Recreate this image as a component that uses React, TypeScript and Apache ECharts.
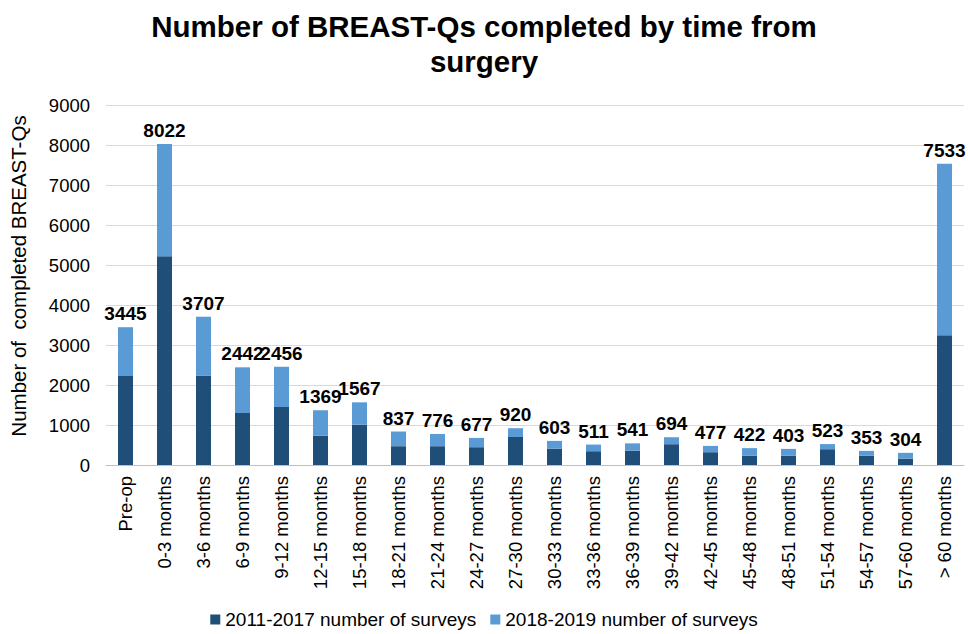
import React, { useEffect, useRef } from "react";
import * as echarts from "echarts";

const categories = [
  "Pre-op", "0-3 months", "3-6 months", "6-9 months", "9-12 months", "12-15 months",
  "15-18 months", "18-21 months", "21-24 months", "24-27 months", "27-30 months",
  "30-33 months", "33-36 months", "36-39 months", "39-42 months", "42-45 months",
  "45-48 months", "48-51 months", "51-54 months", "54-57 months", "57-60 months", "> 60 months",
];

const totals = [3445, 8022, 3707, 2442, 2456, 1369, 1567, 837, 776, 677, 920, 603, 511, 541, 694, 477, 422, 403, 523, 353, 304, 7533];

const surveys2011to2017 = [2225, 5220, 2230, 1300, 1450, 730, 1010, 470, 470, 445, 700, 410, 345, 360, 520, 320, 235, 235, 395, 230, 160, 3245];

const surveys2018to2019 = [1220, 2802, 1477, 1142, 1006, 639, 557, 367, 306, 232, 220, 193, 166, 181, 174, 157, 187, 168, 128, 123, 144, 4288];

const yTicks = { min: 0, max: 9000, interval: 1000 };

const seriesNames = ["2011-2017 number of surveys", "2018-2019 number of surveys"];

const FONT = "Liberation Sans, Arial, Helvetica, sans-serif";

export default function App() {
  const ref = useRef<HTMLDivElement>(null);
  useEffect(() => {
    if (!ref.current) return;
    const chart = echarts.init(ref.current, null, { renderer: "svg" });
    chart.setOption({
      animation: false,
      backgroundColor: "#ffffff",
      textStyle: { fontFamily: FONT },
      title: {
        text: "Number of BREAST-Qs completed by time from\nsurgery",
        left: "center",
        top: 4,
        textStyle: {
          fontFamily: FONT,
          fontSize: 29.5,
          fontWeight: "bold",
          color: "#000000",
          lineHeight: 35,
        },
      },
      legend: {
        data: seriesNames,
        bottom: 0,
        left: "center",
        icon: "rect",
        itemWidth: 10,
        itemHeight: 10,
        itemGap: 14,
        textStyle: { fontFamily: FONT, fontSize: 19, color: "#000000" },
      },
      grid: { left: 98, right: 4, top: 105, bottom: 169, containLabel: false },
      xAxis: {
        type: "category",
        data: categories,
        axisLine: { show: true, lineStyle: { color: "#bfbfbf", width: 1 } },
        axisTick: { show: false },
        axisLabel: {
          rotate: 90,
          interval: 0,
          margin: 11,
          fontFamily: FONT,
          fontSize: 18.5,
          color: "#000000",
        },
      },
      yAxis: {
        type: "value",
        min: yTicks.min,
        max: yTicks.max,
        interval: yTicks.interval,
        name: "Number of  completed BREAST-Qs",
        nameLocation: "middle",
        nameRotate: 90,
        nameGap: 77,
        nameTextStyle: { fontFamily: FONT, fontSize: 20.5, color: "#000000", padding: [0, 0, 0, 18] },
        axisLine: { show: false },
        axisTick: { show: false },
        axisLabel: {
          margin: 16,
          fontFamily: FONT,
          fontSize: 18.5,
          color: "#000000",
          formatter: (v: number) => String(v),
        },
        splitLine: { lineStyle: { color: "#d9d9d9", width: 1 } },
      },
      series: [
        {
          name: seriesNames[0],
          type: "bar",
          stack: "total",
          barWidth: 15,
          itemStyle: { color: "#1f4e79" },
          data: surveys2011to2017,
        },
        {
          name: seriesNames[1],
          type: "bar",
          stack: "total",
          barWidth: 15,
          itemStyle: { color: "#5b9bd5" },
          data: surveys2018to2019,
          label: {
            show: true,
            position: "top",
            distance: 4,
            fontFamily: FONT,
            fontSize: 19,
            fontWeight: "bold",
            color: "#000000",
            formatter: (p: any) => String(totals[p.dataIndex]),
          },
        },
      ],
    });
    return () => chart.dispose();
  }, []);
  return (
    <div
      ref={ref}
      style={{ position: "fixed", left: 0, top: 0, width: 968, height: 634 }}
    />
  );
}
